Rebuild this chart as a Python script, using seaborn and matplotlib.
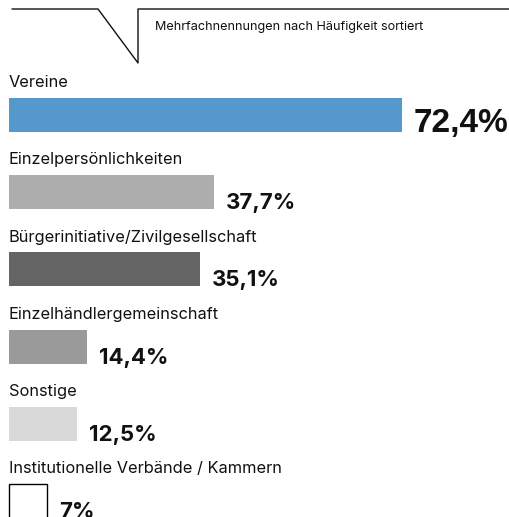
import matplotlib
matplotlib.use("Agg")
import matplotlib.pyplot as plt
from matplotlib.lines import Line2D
import seaborn as sns
import pandas as pd

# Data
categories = [
    "Vereine",
    "Einzelpersönlichkeiten",
    "Bürgerinitiative/Zivilgesellschaft",
    "Einzelhändlergemeinschaft",
    "Sonstige",
    "Institutionelle Verbände / Kammern",
]
values = [72.4, 37.7, 35.1, 14.4, 12.5, 7.0]
colors = ["#5599cc", "#adadad", "#646464", "#9a9a9a", "#d9d9d9", "#ffffff"]
subtitle = "Mehrfachnennungen nach Häufigkeit sortiert"

df = pd.DataFrame({"kategorie": categories, "anteil": values})

sns.set_theme(style="white")
plt.rcParams["font.family"] = ["Inter", "DejaVu Sans"]
lead_font = ["Liberation Sans", "DejaVu Sans"]

W, H, DPI = 510, 517, 100
fig = plt.figure(figsize=(W / DPI, H / DPI), dpi=DPI)
ax = fig.add_axes([0, 0, 1, 1])

sns.barplot(
    data=df, x="anteil", y="kategorie", hue="kategorie",
    palette=dict(zip(categories, colors)), order=categories,
    hue_order=categories, orient="h", width=0.44, legend=False,
    saturation=1, ax=ax,
)

# pixel-like scale: 5.43 px per percent, zero at 9 px
px_per_pct = 5.43
x0 = 9
ax.set_xlim(-x0 / px_per_pct, (W - x0) / px_per_pct)
step = 77.2
first = 115
ax.set_ylim((H - first) / step, -first / step)
ax.axis("off")

for bar in ax.patches:
    fc = bar.get_facecolor()
    if fc[0] > 0.99 and fc[1] > 0.99 and fc[2] > 0.99:
        bar.set_edgecolor("black")
        bar.set_linewidth(1.0)
    else:
        bar.set_linewidth(0)

def fmt(v):
    s = f"{v:.1f}".replace(".", ",")
    if s.endswith(",0"):
        s = s[:-2]
    return s + "%"

for i, (cat, v) in enumerate(zip(categories, values)):
    # category label above the bar
    ax.text(0, i - 0.36, cat, fontsize=11.8, color="#111111",
            ha="left", va="baseline")
    # value label next to the bar end, baseline at the bar's bottom;
    # the leading value is set larger
    if i == 0:
        ax.text(v + 11 / px_per_pct, i + 0.22, fmt(v), fontsize=24,
                fontweight="bold", color="#111111", ha="left",
                va="baseline", family=lead_font)
    else:
        ax.text(v + 12 / px_per_pct, i + 0.22, fmt(v), fontsize=16,
                fontweight="bold", color="#111111", ha="left",
                va="baseline")

# header rule with notch
xs = [12, 98, 138, 138, 510]
ys = [9, 9, 63, 9, 9]
fig.add_artist(Line2D([x / W for x in xs], [1 - y / H for y in ys],
                      transform=fig.transFigure, color="#111111", lw=1.0))
fig.text(155 / W, 1 - 27 / H, subtitle, fontsize=9.1, color="#111111",
         ha="left", va="center")

fig.savefig("out.png", dpi=DPI)
